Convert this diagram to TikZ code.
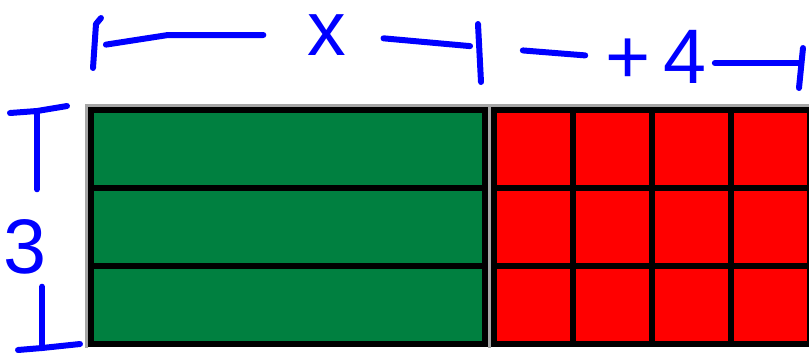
\documentclass[tikz,border=0pt]{standalone}
\usepackage{fontspec}
\setsansfont{Liberation Sans}
\usetikzlibrary{positioning,calc}
\definecolor{bargreen}{RGB}{0,128,64}
\begin{document}
\begin{tikzpicture}[
    x=0.02cm, y=-0.02cm,
    node distance=0pt,
    every node/.style={font=\sffamily},
    bar/.style={draw, fill=bargreen, line width=0.13cm, outer sep=0pt, inner sep=0pt, minimum width=7.88cm, minimum height=1.56cm},
    tile/.style={draw, fill=red, line width=0.13cm, outer sep=0pt, inner sep=0pt, minimum width=1.58cm, minimum height=1.56cm},
    hand/.style={text=blue, inner sep=0pt, font=\sffamily\fontsize{44}{44}\selectfont},
    dim/.style={blue, line width=0.12cm, line cap=round, line join=round},
    edge/.style={black!35, line width=0.05cm}
]
\useasboundingbox (0,0) rectangle (809,353);

% green bars
\node[bar, anchor=north west] (bar1) at (91,110) {};
\node[bar, below=of bar1] (bar2) {};
\node[bar, below=of bar2] (bar3) {};

% red tiles, first row
\node[tile, anchor=north west] (tile11) at (494,110) {};
\node[tile, right=of tile11] (tile12) {};
\node[tile, right=of tile12] (tile13) {};
\node[tile, right=of tile13] (tile14) {};
% second row
\node[tile, below=of tile11] (tile21) {};
\node[tile, right=of tile21] (tile22) {};
\node[tile, right=of tile22] (tile23) {};
\node[tile, right=of tile23] (tile24) {};
% third row
\node[tile, below=of tile21] (tile31) {};
\node[tile, right=of tile31] (tile32) {};
\node[tile, right=of tile32] (tile33) {};
\node[tile, right=of tile33] (tile34) {};

% light edges
\draw[edge] ($(bar3.south west)+(-4.5,4)$) -- ($(bar1.north west)+(-4.5,-4.5)$) -- ($(tile14.north east)+(0,-4.5)$);
\draw[edge] ($(bar1.north east)!0.5!(tile11.north west)+(0,-4.5)$) -- ($(bar3.south east)!0.5!(tile31.south west)+(0,4)$);

% labels
\node[hand] (xlab) at (327,35) {x};
\node[hand] (fourlab) at (656,57) {+\,4};
\node[hand] (threelab) at (25,247) {3};

% tick points
\coordinate (wL) at (97,46);
\coordinate (wM) at (480,47);
\coordinate (wR) at (801,63);
\coordinate (hT) at (37,111);
\coordinate (hB) at (42,348);

% width x
\draw[dim] (93,68) -- (96,24) -- (101,18);
\draw[dim, shorten <=0.18cm, shorten >=0.88cm] (wL) -- (168,35) -- (xlab.west);
\draw[dim, shorten <=0.74cm, shorten >=0.2cm] (xlab.east) -- (wM);
\draw[dim] (478,24) -- (481,82);

% width 4
\draw[dim, shorten <=0.86cm, shorten >=0.4cm] (wM) -- (fourlab.west);
\draw[dim, shorten <=0.16cm] (fourlab.east |- wR) -- (wR);
\draw[dim] (803,48) -- (799,88);

% height 3
\draw[dim] (10,113) -- (hT) -- (67,106);
\draw[dim, shorten >=0.6cm] (hT) -- (hT |- threelab.north);
\draw[dim, shorten <=0.24cm] (hB |- threelab.south) -- (hB);
\draw[dim] (18,350) -- (hB) -- (80,344);

\end{tikzpicture}
\end{document}
